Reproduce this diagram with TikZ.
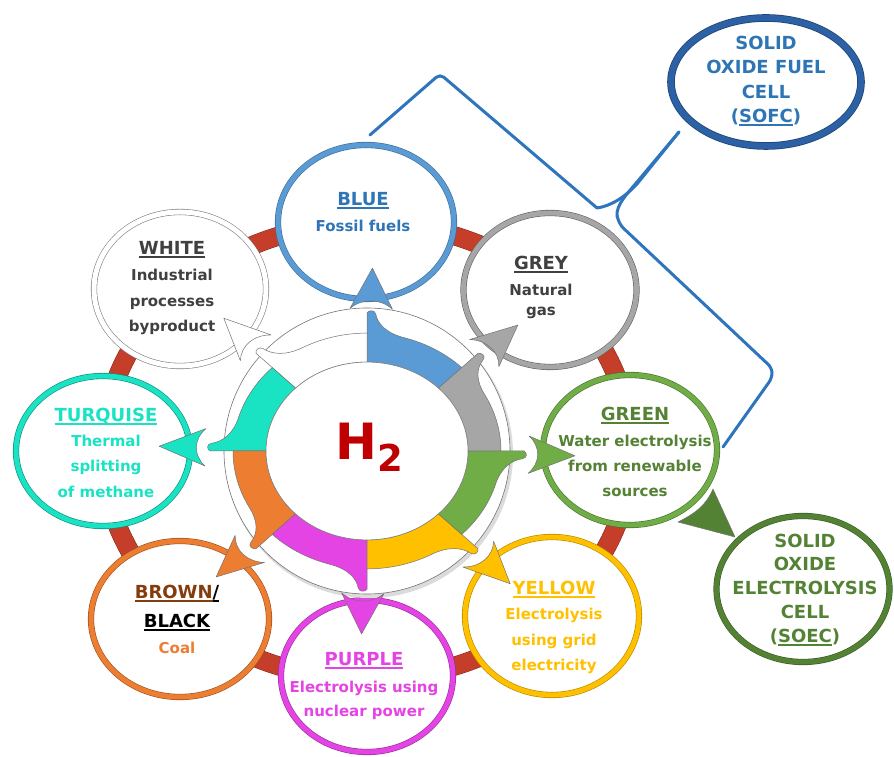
\documentclass[tikz,border=0pt]{standalone}
\usepackage{fontspec}
\setmainfont{DejaVu Sans}
\usetikzlibrary{shapes.geometric}
\definecolor{blueC}{RGB}{91,155,213}
\definecolor{blueT}{RGB}{46,117,182}
\definecolor{greyC}{RGB}{166,166,166}
\definecolor{greyT}{RGB}{64,64,64}
\definecolor{greenC}{RGB}{112,173,71}
\definecolor{greenT}{RGB}{84,130,53}
\definecolor{yellowC}{RGB}{255,192,0}
\definecolor{purpleC}{RGB}{229,68,229}
\definecolor{orangeC}{RGB}{237,125,49}
\definecolor{brownT}{RGB}{132,60,12}
\definecolor{turqC}{RGB}{26,227,196}
\definecolor{redC}{RGB}{196,62,42}
\definecolor{sofcC}{RGB}{44,98,165}
\definecolor{brkC}{RGB}{46,117,190}
\definecolor{hC}{RGB}{192,0,0}
\newcommand\myul[1]{\begingroup\setbox0=\hbox{#1}\rlap{\rule[-2.8pt]{\wd0}{1.3pt}}\box0\endgroup}
\newcommand\hseg[2]{%
  \path[seg, fill=#2]
    (#1:101 and 88.9) -- (#1:157 and 138.2)
    .. controls ({#1-0.8}:160.5 and 141.2) and ({#1-2.8}:160.5 and 141.2) .. ({#1-3.2}:156 and 137.3)
    .. controls ({#1-4.2}:145 and 127.6) and ({#1-8}:135 and 118.8) .. ({#1-17}:134 and 117.9)
    arc[start angle={#1-17}, end angle={#1-45}, x radius=134, y radius=117.9]
    -- ({#1-45}:101 and 88.9)
    arc[start angle={#1-45}, end angle={#1}, x radius=101, y radius=88.9]
    -- cycle;}
\newcommand\harrow[2]{%
  \path[seg, fill=#2]
    ({#1+6}:163 and 143.4) -- ({#1-1.5}:208 and 183) -- ({#1-9}:163 and 143.4)
    .. controls ({#1-4.5}:174 and 153.1) and ({#1+1.5}:174 and 153.1) .. ({#1+6}:163 and 143.4)
    -- cycle;}
\begin{document}
\begin{tikzpicture}[x=1pt,y=1pt,
  ell/.style={ellipse, inner sep=0pt, outer sep=0pt, fill=white, line width=0.6pt, double distance=5pt},
  ttl/.style={font=\fontsize{18}{18}\selectfont\bfseries, anchor=base, inner sep=0pt, outer sep=0pt},
  bdy/.style={font=\fontsize{15}{15}\selectfont\bfseries, anchor=base, inner sep=0pt, outer sep=0pt},
  seg/.style={draw=black!55, line width=0.5pt, line join=round},
  brk/.style={draw=brkC, line width=3pt, line cap=round, line join=round}]
\useasboundingbox (0,0) rectangle (894,757);
\coordinate (C) at (367,306);

% red ring behind the ellipses
\draw[draw=redC!65!black, double=redC, double distance=18pt, line width=0.5pt]
  (C) ellipse [x radius=264, y radius=228];

% outer ellipses
\node[ell, draw=blueC!70!black, double=blueC, minimum width=176pt, minimum height=154pt] (blue) at (366,535) {};
\node[ell, draw=greyC!60!black, double=greyC, minimum width=173pt, minimum height=154pt] (grey) at (550,467) {};
\node[ell, draw=greenC!65!black, double=greenC, minimum width=174pt, minimum height=150pt] (green) at (630,307) {};
\node[ell, draw=yellowC!70!black, double=yellowC, minimum width=174pt, minimum height=158pt] (yellow) at (552,141) {};
\node[ell, draw=purpleC!65!black, double=purpleC, minimum width=172pt, minimum height=152pt] (purple) at (367,81) {};
\node[ell, draw=orangeC!65!black, double=orangeC, minimum width=178pt, minimum height=156pt] (brown) at (180,138) {};
\node[ell, draw=turqC!60!black, double=turqC, minimum width=174pt, minimum height=150pt] (turq) at (103,306) {};
\node[ell, draw=black!50, double=white, minimum width=172pt, minimum height=154pt] (white) at (180,468) {};
\node[ell, draw=sofcC!70!black, double=sofcC, line width=0.8pt, double distance=6pt, minimum width=190pt, minimum height=128pt] (sofc) at (766,675) {};
\node[ell, draw=greenT!70!black, double=greenT, minimum width=173pt, minimum height=146pt] (soec) at (803,168) {};

% arrow from GREEN to SOEC
\coordinate (sa1) at (713,268);
\coordinate (sa2) at (735,220);
\coordinate (sa3) at (678,235);
\path[seg, fill=greenT] (sa1) -- (sa2) -- (sa3) .. controls (696,244) and (706,252) .. (sa1) -- cycle;

% bracket to SOFC
\coordinate (bk1) at (370,622);
\coordinate (bk2) at (679,625);
\coordinate (bk3) at (723,310);
\draw[brk, rounded corners=5pt] (bk1) -- (440,683) -- (597,549);
\draw[brk] (597,549) .. controls (611,551) and (625,560) .. (637,573) -- (bk2);
\draw[brk] (bk2) -- (637,575) .. controls (627,563) and (616,552) .. (617,541);
\draw[brk, rounded corners=5pt] (617,541) -- (620,532) -- (772,389) -- (772,379) -- (bk3);

% central disc
\fill[black!14] (369,303) circle (144);
\draw[fill=white, draw=black!55, line width=0.6pt] (C) circle (143);

\begin{scope}[shift={(C)}]
  \hseg{90}{blueC}
  \hseg{135}{white}
  \hseg{180}{turqC}
  \hseg{225}{orangeC}
  \hseg{270}{purpleC}
  \hseg{315}{yellowC}
  \hseg{360}{greenC}
  \hseg{45}{greyC}
  \draw[fill=white, draw=black!50, line width=0.6pt] (0,0) ellipse [x radius=101, y radius=88.9];
  \harrow{90}{blueC}
  \harrow{135}{white}
  \harrow{180}{turqC}
  \harrow{225}{orangeC}
  \harrow{270}{purpleC}
  \harrow{315}{yellowC}
  \harrow{360}{greenC}
  \harrow{45}{greyC}
\end{scope}

\node[anchor=base, inner sep=0pt, text=hC, font=\bfseries] (h2) at (369,297)
  {\fontsize{50}{50}\selectfont H\raisebox{-12pt}{\fontsize{37}{37}\selectfont 2}};

% texts
\node[ttl, text=blueT] (bl1) at (363,551) {\myul{BLUE}};
\node[bdy, text=blueT] (bl2) at (363,525) {Fossil fuels};

\node[ttl, text=greyT] (gr1) at (541,487) {\myul{GREY}};
\node[bdy, text=greyT] (gr2) at (541,461) {Natural};
\node[bdy, text=greyT] (gr3) at (541,441) {gas};

\node[ttl, text=greenT] (gn1) at (635,336) {\myul{GREEN}};
\node[bdy, text=greenT] (gn2) at (635,310) {Water electrolysis};
\node[bdy, text=greenT] (gn3) at (635,285) {from renewable};
\node[bdy, text=greenT] (gn4) at (635,260) {sources};

\node[ttl, text=yellowC] (ye1) at (554,162) {\myul{YELLOW}};
\node[bdy, text=yellowC] (ye2) at (554,137) {Electrolysis};
\node[bdy, text=yellowC] (ye3) at (554,111) {using grid};
\node[bdy, text=yellowC] (ye4) at (554,86) {electricity};

\node[ttl, text=purpleC] (pu1) at (364,91) {\myul{PURPLE}};
\node[bdy, text=purpleC] (pu2) at (364,64) {Electrolysis using};
\node[bdy, text=purpleC] (pu3) at (364,40) {nuclear power};

\node[ttl, text=black] (br1) at (177,158) {{\color{brownT}\myul{BROWN}}\myul{/}};
\node[ttl, text=black] (br2) at (177,129) {\myul{BLACK}};
\node[bdy, text=orangeC] (br3) at (177,103) {Coal};

\node[ttl, text=turqC] (tq1) at (106,335) {\myul{TURQUISE}};
\node[bdy, text=turqC] (tq2) at (106,310) {Thermal};
\node[bdy, text=turqC] (tq3) at (106,285) {splitting};
\node[bdy, text=turqC] (tq4) at (106,259) {of methane};

\node[ttl, text=greyT] (wh1) at (172,502) {\myul{WHITE}};
\node[bdy, text=greyT] (wh2) at (172,476) {Industrial};
\node[bdy, text=greyT] (wh3) at (172,450) {processes};
\node[bdy, text=greyT] (wh4) at (172,425) {byproduct};

\node[ttl, text=blueT] (sf1) at (766,707) {SOLID};
\node[ttl, text=blueT] (sf2) at (766,683) {OXIDE FUEL};
\node[ttl, text=blueT] (sf3) at (766,658) {CELL};
\node[ttl, text=blueT] (sf4) at (766,634) {(\myul{SOFC})};

\node[ttl, text=greenT] (se1) at (805,209) {SOLID};
\node[ttl, text=greenT] (se2) at (805,186) {OXIDE};
\node[ttl, text=greenT] (se3) at (805,162) {ELECTROLYSIS};
\node[ttl, text=greenT] (se4) at (805,138) {CELL};
\node[ttl, text=greenT] (se5) at (805,114) {(\myul{SOEC})};
\end{tikzpicture}
\end{document}
